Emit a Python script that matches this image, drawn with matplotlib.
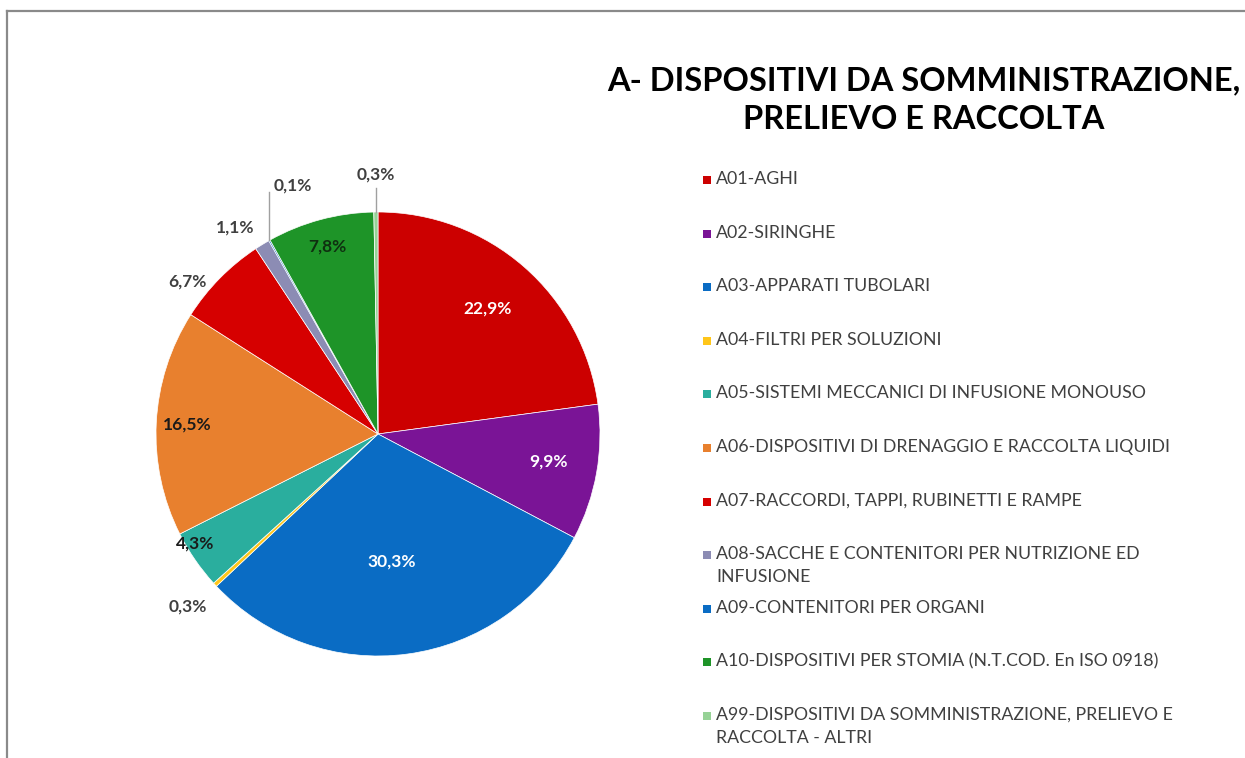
import numpy as np
import matplotlib
matplotlib.use("Agg")
import matplotlib.pyplot as plt
from matplotlib.patches import Rectangle
from matplotlib.lines import Line2D

# --- dati --- #
codici = ["A01", "A02", "A03", "A04", "A05", "A06", "A07", "A08", "A09", "A10", "A99"]
voci = [
    "A01-AGHI",
    "A02-SIRINGHE",
    "A03-APPARATI TUBOLARI",
    "A04-FILTRI PER SOLUZIONI",
    "A05-SISTEMI MECCANICI DI INFUSIONE MONOUSO",
    "A06-DISPOSITIVI DI DRENAGGIO E RACCOLTA LIQUIDI",
    "A07-RACCORDI, TAPPI, RUBINETTI E RAMPE",
    "A08-SACCHE E CONTENITORI PER NUTRIZIONE ED\nINFUSIONE",
    "A09-CONTENITORI PER ORGANI",
    "A10-DISPOSITIVI PER STOMIA (N.T.COD. En ISO 0918)",
    "A99-DISPOSITIVI DA SOMMINISTRAZIONE, PRELIEVO E\nRACCOLTA - ALTRI",
]
percentuali = [22.9, 9.9, 30.3, 0.3, 4.3, 16.5, 6.7, 1.1, 0.1, 7.8, 0.3]
titolo = "A- DISPOSITIVI DA SOMMINISTRAZIONE,\nPRELIEVO E RACCOLTA"

# --- stile --- #
colori = ["#CC0000", "#7A1496", "#0A6CC4", "#FFC61A", "#2AAE9E", "#E8802E",
          "#D60000", "#8C8CB4", "#0A6CC4", "#1E9428", "#96D296"]
# distanza etichetta, spostamento angolare, colore testo, linea guida
etichette = [
    (0.75, 0.0, "white", False),
    (0.78, 1.0, "white", False),
    (0.58, -1.5, "white", False),
    (1.155, -0.5, "#404040", False),
    (0.96, -3.5, "#1A1A1A", False),
    (0.86, 0.0, "#1A1A1A", False),
    (1.10, 5.8, "#404040", False),
    (1.13, 3.2, "#404040", False),
    (1.12, 0.0, "#404040", "left"),
    (0.875, 0.0, "#0F3010", False),
    (1.14, 0.0, "#404040", "center"),
]

W, H = 1245, 758
fig = plt.figure(figsize=(W / 100, H / 100), dpi=100)
fig.patch.set_facecolor("white")

font = "Lato"

# cornice (solo bordo sinistro e superiore visibili)
fig.add_artist(Line2D([7 / W, 7 / W], [0, 1 - 11 / H], color="#8A8A8A", lw=1.6))
fig.add_artist(Line2D([7 / W, 1], [1 - 11 / H, 1 - 11 / H], color="#8A8A8A", lw=1.6))

cx, cy, r = 378, 434, 222
ax = fig.add_axes([(cx - r) / W, 1 - (cy + r) / H, 2 * r / W, 2 * r / H])
wedges, _ = ax.pie(percentuali, colors=colori, startangle=90, counterclock=False,
                   wedgeprops=dict(edgecolor="white", linewidth=0.5))
ax.set_xlim(-1, 1)
ax.set_ylim(-1, 1)
ax.axis("off")

for w, p, (dist, shift, tc, leader) in zip(wedges, percentuali, etichette):
    mid = np.deg2rad((w.theta1 + w.theta2) / 2)
    txt = f"{p:.1f}%".replace(".", ",")
    if leader:
        ex, ey = np.cos(mid), np.sin(mid)
        ax.add_line(Line2D([ex, ex], [ey, dist - 0.03], color="#A0A0A0", lw=1.0,
                           clip_on=False))
        if leader == "left":
            ax.text(ex + 0.02, dist, txt, ha="left", va="center", color=tc,
                    fontsize=12.5, fontweight="bold", family=font)
        else:
            ax.text(ex, dist + 0.03, txt, ha="center", va="center", color=tc,
                    fontsize=12.5, fontweight="bold", family=font)
    else:
        a = mid + np.deg2rad(shift)
        ax.text(dist * np.cos(a), dist * np.sin(a), txt, ha="center", va="center",
                color=tc, fontsize=12.5, fontweight="bold", family=font)

fig.text(924 / W, 1 - 100 / H, titolo, ha="center", va="center", fontsize=23.5,
         fontweight="bold", family=font, color="black", linespacing=1.42)

# legenda
y0, passo = 180, 53.6
for i, (lab, col) in enumerate(zip(voci, colori)):
    y = y0 + i * passo
    fig.add_artist(Rectangle((703 / W, 1 - (y + 4) / H), 8 / W, 8 / H,
                             facecolor=col, edgecolor="none"))
    fig.text(716 / W, 1 - (y - 9) / H, lab, ha="left", va="top", fontsize=12.8,
             family=font, color="#404040", linespacing=1.55)

fig.savefig("out.png", dpi=100)
